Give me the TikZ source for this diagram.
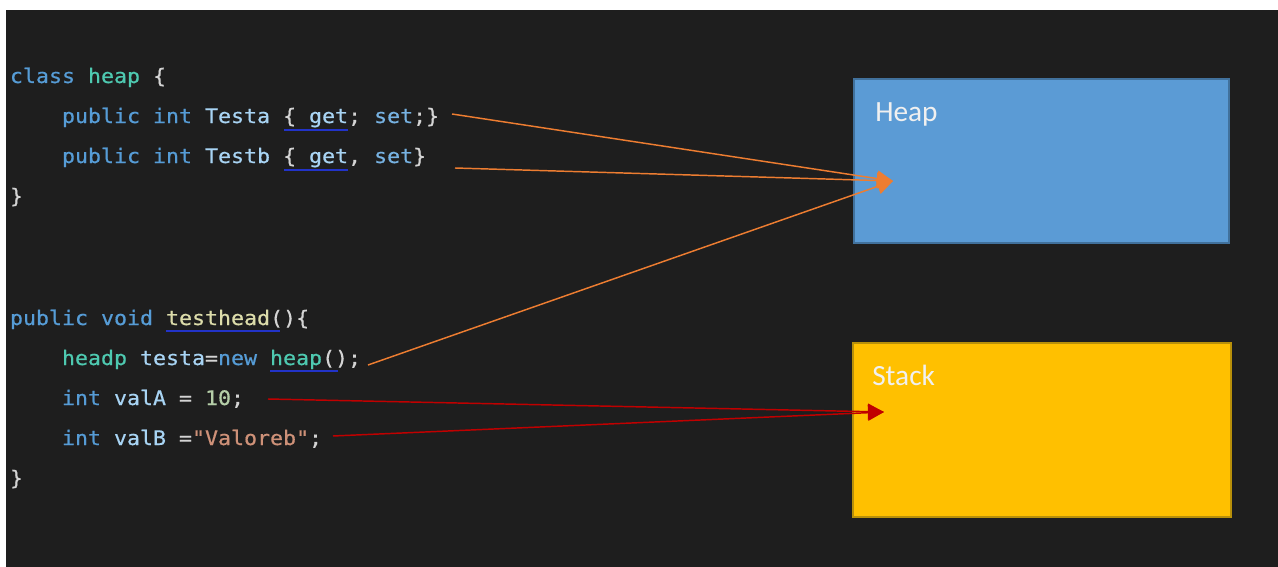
\documentclass[tikz,border=0pt]{standalone}
\usepackage{fontspec}
\setmainfont{Carlito}
\newfontfamily\codefont{DejaVu Sans Mono}[FakeStretch=1.08,FakeBold=0.6]
\usetikzlibrary{arrows.meta}
\definecolor{bg}{HTML}{1E1E1E}
\definecolor{kw}{HTML}{569CD6}
\definecolor{ty}{HTML}{4EC9B0}
\definecolor{idc}{HTML}{A8D4F4}
\definecolor{df}{HTML}{D4D4D4}
\definecolor{fn}{HTML}{DCDCAA}
\definecolor{strc}{HTML}{CE9178}
\definecolor{num}{HTML}{B5CEA8}
\definecolor{squig}{HTML}{2233C8}
\definecolor{heapfill}{HTML}{5B9BD5}
\definecolor{heapline}{HTML}{41719C}
\definecolor{stackfill}{HTML}{FFC000}
\definecolor{stackline}{HTML}{B8900A}
\definecolor{oarrc}{HTML}{ED7D31}
\definecolor{rarrc}{HTML}{C00000}
\tikzset{
  codeline/.style={anchor=base west, inner sep=0pt, outer sep=0pt, font=\codefont\fontsize{15pt}{17pt}\selectfont, text=df},
  boxlabel/.style={anchor=base west, inner sep=0pt, font=\fontsize{22pt}{24pt}\selectfont, text=white!94!black},
  memheap/.style={anchor=north west, draw=heapline, fill=heapfill, line width=1.3pt, minimum width=281.25pt, minimum height=123pt, inner sep=0pt},
  memstack/.style={anchor=north west, draw=stackline, fill=stackfill, line width=1.3pt, minimum width=283.5pt, minimum height=130.5pt, inner sep=0pt},
  squiggle/.style={draw=squig, line width=1.3pt},
  oarrow/.style={draw=oarrc, line width=1.1pt, -{Triangle[length=12pt,width=12pt]}},
  rarrow/.style={draw=rarrc, line width=1.1pt, -{Triangle[length=12pt,width=12pt]}}
}
\begin{document}
\begin{tikzpicture}[x=0.75pt,y=-0.75pt]
\useasboundingbox (0,0) rectangle (1278,567);
\fill[white] (0,0) rectangle (1278,567);
\fill[bg] (6,10) rectangle (1278,567);

% boxes
\node[memheap] (heap) at (853,78) {};
\node[memstack] (stack) at (852,342) {};
\node[boxlabel] (heaplbl) at (875,122) {Heap};
\node[boxlabel] (stacklbl) at (872,385) {Stack};

% code
\node[codeline] (l1) at (10,83) {\textcolor{kw}{class} \textcolor{ty}{heap} \{};
\node[codeline] (l2) at (62,123) {\textcolor{kw}{public} \textcolor{kw}{int} \textcolor{idc}{Testa} \{ \textcolor{idc}{get}; \textcolor{kw!60!idc}{set};\}};
\node[codeline] (l3) at (62,163) {\textcolor{kw}{public} \textcolor{kw}{int} \textcolor{idc}{Testb} \{ \textcolor{idc}{get}, \textcolor{kw!60!idc}{set}\}};
\node[codeline] (l4) at (10,203) {\}};
\node[codeline] (l5) at (10,325) {\textcolor{kw}{public} \textcolor{kw}{void} \textcolor{fn}{testhead}()\{};
\node[codeline] (l6) at (62,365) {\textcolor{ty}{headp} \textcolor{idc}{testa}=\textcolor{kw}{new} \textcolor{ty}{heap}();};
\node[codeline] (l7) at (62,405) {\textcolor{kw}{int} \textcolor{idc}{valA} = \textcolor{num}{10};};
\node[codeline] (l8) at (62,445) {\textcolor{kw}{int} \textcolor{idc}{valB} =\textcolor{strc}{"Valoreb"};};
\node[codeline] (l9) at (10,485) {\}};

% squiggly underlines
\draw[squiggle] (284,130) -- (348,130);
\draw[squiggle] (284,170) -- (348,170);
\draw[squiggle] (166,331) -- (280,331);
\draw[squiggle] (270,371) -- (338,371);

% arrow anchors
\coordinate (sa) at (452,114);
\coordinate (sb) at (455,168);
\coordinate (sc) at (368,365);
\coordinate (sd) at (268,399);
\coordinate (se) at (333,436);
\coordinate (htip) at (893,181);
\coordinate (stip) at (884,412);

\draw[oarrow] (sa) -- (htip);
\draw[oarrow] (sb) -- (htip);
\draw[oarrow] (sc) -- (htip);
\draw[rarrow] (sd) -- (stip);
\draw[rarrow] (se) -- (stip);
\end{tikzpicture}
\end{document}
